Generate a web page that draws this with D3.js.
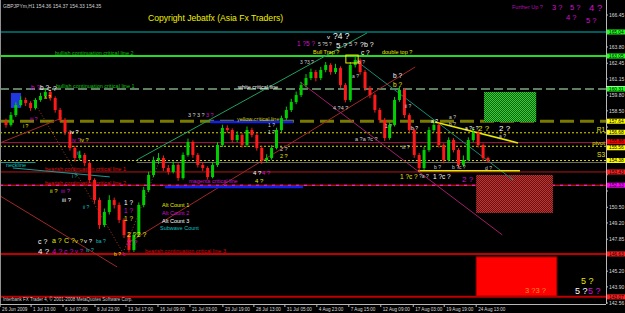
<!DOCTYPE html>
<html>
<head>
<meta charset="UTF-8">
<script src="https://d3js.org/d3.v7.min.js"></script>
<title>GBPJPY H1</title>
<style>
  body { margin: 0; background: #000; overflow: hidden; }
  svg { display: block; }
  text { font-family: 'Liberation Sans', Arial, sans-serif; }
</style>
</head>
<body>
<svg width="625" height="313"></svg>
<script>
// ---- data ----
// hourly candles, [open, high, low, close]
const candles = [
  [157.60,157.85,157.10,157.33],[157.33,158.40,157.20,158.15],[158.15,159.20,158.00,158.98],[158.98,159.70,158.85,159.40],
  [159.40,159.60,158.90,159.15],[159.15,159.30,158.50,158.73],[158.73,159.55,158.60,159.40],[159.40,160.00,159.25,159.73],
  [159.73,160.35,159.60,160.06],[160.06,160.20,159.35,159.56],[159.56,159.70,158.35,158.57],[158.57,158.75,157.55,157.74],
  [157.74,157.90,156.50,156.74],[156.74,156.90,155.20,155.42],[155.42,155.60,154.30,154.59],[154.59,155.20,154.40,154.84],
  [154.84,155.00,153.90,154.17],[154.17,154.30,152.50,152.76],[152.76,152.90,150.80,151.10],[151.10,151.30,148.70,149.03],
  [149.03,150.40,148.85,150.11],[150.11,151.50,149.90,151.10],[151.10,151.30,150.40,150.69],[150.69,150.90,149.20,149.45],
  [149.45,149.60,147.95,148.20],[148.20,148.40,146.75,146.96],[146.96,148.45,146.80,148.20],[148.20,150.90,148.05,150.69],
  [150.69,152.20,150.50,151.93],[151.93,153.45,151.75,153.18],[153.18,154.70,153.00,154.42],[154.42,155.00,154.10,154.59],
  [154.59,154.80,153.50,153.76],[153.76,154.00,153.20,153.43],[153.43,154.30,153.30,154.01],[154.01,154.15,152.70,152.93],
  [152.93,155.05,152.80,154.84],[154.84,156.20,154.70,155.92],[155.92,156.05,154.60,154.84],[154.84,155.00,153.80,154.01],
  [154.01,154.25,153.50,153.76],[153.76,153.90,152.80,153.01],[153.01,154.25,152.90,154.01],[154.01,155.90,153.85,155.67],
  [155.67,157.35,155.50,157.08],[157.08,157.30,156.70,156.91],[156.91,157.05,155.85,156.08],[156.08,156.80,155.90,156.50],
  [156.50,156.65,155.45,155.67],[155.67,157.20,155.50,156.91],[156.91,157.10,156.30,156.50],[156.50,156.65,155.20,155.42],
  [155.42,155.60,154.10,154.42],[154.42,154.90,154.20,154.59],[154.59,155.65,154.45,155.42],[155.42,157.10,155.30,156.91],
  [156.91,158.10,156.75,157.90],[157.90,158.85,157.75,158.57],[158.57,159.50,158.40,159.23],[159.23,160.10,159.05,159.81],
  [159.81,160.90,159.65,160.64],[160.64,161.55,160.45,161.22],[161.22,162.00,161.05,161.72],[161.72,161.90,160.95,161.22],
  [161.22,162.15,161.05,161.89],[161.89,162.55,161.70,162.30],[162.30,162.45,161.50,161.72],[161.72,162.40,161.55,162.05],
  [162.05,162.20,160.40,160.64],[160.64,160.80,159.20,159.40],[159.40,162.55,159.25,162.30],[162.30,163.00,162.10,162.71],
  [162.71,162.85,161.50,161.72],[161.72,161.90,160.15,160.39],[160.39,160.55,159.55,159.81],[159.81,159.95,158.35,158.57],
  [158.57,158.75,157.50,157.74],[157.74,157.90,156.00,156.25],[156.25,157.55,156.10,157.33],[157.33,159.65,157.20,159.40],
  [159.40,160.55,159.25,160.23],[160.23,160.40,157.90,158.15],[158.15,158.30,156.70,156.91],[156.91,157.05,154.60,154.84],
  [154.84,155.00,153.50,153.76],[153.76,155.50,153.60,155.25],[155.25,157.15,155.10,156.91],[156.91,157.70,156.75,157.33],
  [157.33,157.50,155.45,155.67],[155.67,155.80,154.15,154.42],[154.42,156.30,154.30,156.08],[156.08,156.25,155.05,155.25],
  [155.25,155.40,153.70,154.01],[154.01,154.80,153.85,154.42],[154.42,156.30,154.30,156.08],[156.08,157.05,155.90,156.66],
  [156.66,156.85,155.45,155.67],[155.67,155.80,154.35,154.59],[154.59,154.70,154.20,154.35]
];

const priceTicks = [166.45,165.10,163.80,162.45,161.15,159.80,158.50,157.15,155.85,154.50,
                    153.20,151.85,150.50,149.20,147.85,146.55,145.20,143.90,142.56];

const dateBars = [-1.2,5.1,11.6,18.1,24.4,30.9,37.4,44.1,50.4,56.7,63.2,69.7,76.2,82.8,89.1,95.6];
const dateLabels = ["26 Jun 2009","1 Jul 13:00","6 Jul 07:00","8 Jul 23:00","13 Jul 17:00","16 Jul 09:00",
                    "21 Jul 03:00","23 Jul 19:00","28 Jul 13:00","31 Jul 05:00","4 Aug 23:00","7 Aug 15:00",
                    "12 Aug 09:00","17 Aug 03:00","19 Aug 19:00","24 Aug 13:00"];

// horizontal levels (price), also shown as markers on the price axis
const levelPrices = [165.04,163.05,160.31,157.64,156.68,155.86,155.56,154.38,153.43,152.33,146.63,143.07];

// trend lines: [bar1, price1, bar2, price2]
const greenChannel = [26.6,154.43,73.4,164.96];
const tealFall     = [71.0,162.72,103.1,152.77];
const redRise      = [24.8,147.54,83.2,162.14];
const magentaFall  = [59.8,160.89,100.9,148.21];
const redRiseLeft  = [-1.2,155.84,11.4,157.91];
const redFallLeft  = [-1.2,151.44,22.6,145.55];
const yellowRes    = [87.2,157.58,104.1,155.84];
const yellowSup    = [83.8,153.52,104.5,153.52];
const necklineFall = [1.4,153.76,21.1,153.02];
const dotDown      = [5.5,159.40,23.8,146.72];
const dotUp        = [23.8,146.72,31.3,154.43];
const blueHigh     = [41.5,157.57,58.4,157.57];
const blueLow      = [32.3,152.19,60.4,152.19];
const neckLeft     = [-1.2,154.21,6.0,154.21];
const greyNeck     = [26.6,154.21,125,154.21];

// zones: [bar1, priceTop, bar2, priceBottom]
const greenZone = [97.2,160.07,107.8,157.58];
const brownZone = [95.6,153.18,111.2,150.03];
const redZone   = [95.6,146.38,112.0,143.14];
const topBox    = [69.1,163.13,71.6,162.47];
const blueBox   = [1.0,159.98,3.05,158.74];

// ---- chart ----
const svg = d3.select("svg");
const plotRight = 606, plotBottom = 304;
const x = d3.scaleLinear().domain([0, 98]).range([6, 488]);
const y = d3.scaleLinear().domain([142.56, 166.45]).range([303, 15]);

svg.append("rect").attr("width", 625).attr("height", 313).attr("fill", "#000");

const defs = svg.append("defs");
defs.append("clipPath").attr("id", "plot").append("rect")
  .attr("x", 0).attr("y", 0).attr("width", plotRight).attr("height", plotBottom);
function dots(id, bg, fg) {
  const p = defs.append("pattern").attr("id", id).attr("width", 2).attr("height", 2)
    .attr("patternUnits", "userSpaceOnUse");
  p.append("rect").attr("width", 2).attr("height", 2).attr("fill", bg);
  p.append("rect").attr("width", 1).attr("height", 1).attr("fill", fg);
  p.append("rect").attr("x", 1).attr("y", 1).attr("width", 1).attr("height", 1).attr("fill", fg);
}
dots("greenDots", "#0a6a0a", "#3cc83c");
dots("brownDots", "#6e0e0e", "#b83838");

const plot = svg.append("g").attr("clip-path", "url(#plot)");

// horizontal level lines
const levelStyle = [
  {c: "#007a7a", w: 1.5},
  {c: "#22dd22", w: 2},
  {c: "#5f7f62", w: 2, d: "9,4"},
  {c: "#7a7a00", w: 3, d: "14,6"},
  {c: "#d8d800", w: 1, d: "2,2"},
  {c: "#a0204a", w: 1},
  {c: "#d8d800", w: 1, d: "2,2"},
  {c: "#d8d800", w: 1, d: "2,2"},
  {c: "#b01818", w: 1},
  {c: "#ff1010", w: 1},
  {c: "#c00000", w: 2},
  {c: "#c00000", w: 2}
];
levelPrices.forEach((p, i) => {
  const s = levelStyle[i];
  plot.append("line").attr("x1", 0).attr("x2", plotRight)
    .attr("y1", y(p)).attr("y2", y(p))
    .attr("stroke", s.c).attr("stroke-width", s.w)
    .attr("stroke-dasharray", s.d || null);
});
// magenta dashes over the bearish line 2
plot.append("line").attr("x1", 0).attr("x2", plotRight)
  .attr("y1", y(levelPrices[9])).attr("y2", y(levelPrices[9]))
  .attr("stroke", "#ff30ff").attr("stroke-width", 1).attr("stroke-dasharray", "3,5");

// zones
function zone(z, fill, stroke) {
  plot.append("rect").attr("x", x(z[0])).attr("y", y(z[1]))
    .attr("width", x(z[2]) - x(z[0])).attr("height", y(z[3]) - y(z[1]))
    .attr("fill", fill).attr("stroke", stroke || "none");
}
zone(greenZone, "url(#greenDots)");
zone(brownZone, "url(#brownDots)");
zone(redZone, "#ff0000", "#a00000");
zone(blueBox, "#2038e0");

// trend lines
function seg(t, color, w, dash) {
  plot.append("line").attr("x1", x(t[0])).attr("y1", y(t[1]))
    .attr("x2", x(t[2])).attr("y2", y(t[3]))
    .attr("stroke", color).attr("stroke-width", w)
    .attr("stroke-dasharray", dash || null);
}
seg(greenChannel, "#1fa060", 1);
seg(tealFall, "#168a78", 1);
seg(redRise, "#a02828", 1);
seg(magentaFall, "#a01e6a", 1);
seg(redRiseLeft, "#a02828", 1);
seg(redFallLeft, "#a02828", 1);
seg(dotDown, "#a03c28", 1, "1,2");
seg(dotUp, "#a03c28", 1, "1,2");
seg(necklineFall, "#1a9a9a", 1);
seg(neckLeft, "#1a9a9a", 1);
seg(greyNeck, "#6a6a6a", 1);
seg(blueHigh, "#1020e8", 2.5);
seg(blueLow, "#1020e8", 2.5);
seg(yellowRes, "#e8e800", 1.5);
seg(yellowSup, "#e8e800", 1.5);

// candles
const bw = 3;
const cg = plot.append("g");
cg.selectAll("line.wick").data(candles).enter().append("line")
  .attr("x1", (d, i) => x(i)).attr("x2", (d, i) => x(i))
  .attr("y1", d => y(d[1])).attr("y2", d => y(d[2]))
  .attr("stroke", d => d[3] >= d[0] ? "#00d000" : "#ff1a1a").attr("stroke-width", 1);
cg.selectAll("rect").data(candles).enter().append("rect")
  .attr("x", (d, i) => x(i) - bw / 2)
  .attr("y", d => y(Math.max(d[0], d[3])))
  .attr("width", bw)
  .attr("height", d => Math.max(1, Math.abs(y(d[0]) - y(d[3]))))
  .attr("fill", d => d[3] >= d[0] ? "#00d000" : "#ff1a1a");

zone(topBox, "none", "#f0f000");

// text annotations
function note(px, py, t, color, size, anchor) {
  svg.append("text").attr("x", px).attr("y", py).attr("fill", color)
    .attr("font-size", size).attr("text-anchor", anchor || "start").text(t);
}
const YEL = "#e8e800", MAG = "#d010d0", WHT = "#ffffff", GRY = "#d0d0d0", CYN = "#10c0c0";

note(3, 8, "GBPJPYm,H1  154.36 154.37 154.33 154.35", GRY, 5);
note(148, 21, "Copyright Jebatfx (Asia Fx Traders)", "#f0f000", 8.6);

note(55, 55, "bullish continuation critical line 2", "#10c010", 5.5);
note(56, 88, "bullish continuation critical line 1", "#10c010", 5.5);
note(238, 89, "white critical line", WHT, 5.5);
note(237, 121, "yellow critical line", "#c8c820", 5.5);
note(6, 167, "neckline", CYN, 5.5);
note(45, 171, "bearish continuation critical line 1", "#e01010", 5.5);
note(45, 185, "bearish continuation critical line 2", "#e01010", 5.5);
note(189, 183, "magenta critical line", MAG, 5.5);
note(145, 253, "bearish continuation critical line 3", "#d01010", 5.5);
note(313, 54, "Bull Trap ?", YEL, 5.5);
note(382, 54, "double top ?", YEL, 5.5);

note(512, 9, "Further Up ?", "#b010b0", 5.5);
note(552, 10, "3 ?", MAG, 7.5);
note(570, 10, "5 ?", MAG, 7.5);
note(589, 11, "4 ?", MAG, 9.5);
note(566, 20, "4 ?", MAG, 7.5);
note(586, 23, "5 ?", MAG, 7.5);

note(162, 207, "Alt Count 1", YEL, 5.5);
note(162, 215, "Alt Count 2", MAG, 5.5);
note(162, 223, "Alt Count 3", WHT, 5.5);
note(160, 230, "Subwave Count", CYN, 5.5);

// wave counts, top
note(327, 39, "v", WHT, 6);
note(333, 39, "?4 ?", WHT, 8.5);
note(297, 46, "1 ?5 ?", MAG, 6.5);
note(318, 46, "5 ?5 ?", GRY, 5);
note(336, 47.5, "5 ?", WHT, 8);
note(349, 46, "5 ?", GRY, 6);
note(360, 47, "?b ?", WHT, 7);
note(361, 55, "c ?", WHT, 6.5);
note(300, 64, "3 ?3 ?", GRY, 5);
note(358, 64, "b ?", GRY, 5);
note(352, 78, "a ?", GRY, 5);
note(393, 78, "b ?", WHT, 6.5);
note(393, 87, "b ?", YEL, 6.5);
note(405, 108, "ii ?", GRY, 5);
note(333, 110, "4 ?4 ?", GRY, 5.5);

// wave counts, left
note(31, 90, "b ?", MAG, 6.5);
note(40, 90, "b ?", WHT, 6.5);
note(48, 91, "c ?", WHT, 6.5);
note(44, 99, "a ?", YEL, 5);
note(23, 128, "i ?", YEL, 5);
note(30, 121, "iii ?", MAG, 5);
note(70, 134, "iv ?", WHT, 5.5);
note(72, 142, "iv ?", MAG, 5.5);
note(80, 142, "iv ?", YEL, 5.5);
note(77, 155, "iii", CYN, 5);
note(72, 178, "i ?", CYN, 5);
note(50, 193, "ii ?", YEL, 6);
note(61, 193, "iii ?", MAG, 6);
note(62, 202, "iii ?", WHT, 6);
note(83, 209, "ii ?", CYN, 5);
note(38, 244, "c ?", WHT, 7);
note(52, 243, "a ?", YEL, 7);
note(64, 243, "C ?", YEL, 7);
note(75, 243, "v ?", YEL, 6);
note(84, 243, "v ?", WHT, 6);
note(38, 254, "4 ?", WHT, 8);
note(52, 254, "4 ?", MAG, 7.5);
note(64, 254, "c ?", MAG, 7);
note(75, 253, "v ?", MAG, 6);
note(86, 252, "iv ?", CYN, 5);
note(96, 243, "ba ?", CYN, 5);
note(114, 256, "b ?", YEL, 5);
note(123, 256, "c", MAG, 5);
note(124, 205, "1 ?", WHT, 6.5);
note(124, 213, "1 ?", MAG, 6.5);
note(124, 221, "1 ?", YEL, 6.5);
note(127, 237, "2 ?2 ?", YEL, 7);
note(127, 245, "2 ?", MAG, 7.5);

// wave counts, middle
note(188, 117, "3 ?", GRY, 5.5);
note(197, 117, "3 ?", GRY, 5.5);
note(206, 117, "3 ?", MAG, 5.5);
note(268, 127, "1 ?", GRY, 5);
note(268, 134, "1 ?", GRY, 5);
note(280, 151, "2 ?", GRY, 5.5);
note(280, 158, "2 ?", YEL, 5.5);
note(253, 175, "4 ?", WHT, 6);
note(262, 175, "4 ?", MAG, 6);
note(255, 183, "4 ?", YEL, 6);
note(355, 141, "a ?a ?c ?", GRY, 5.5);
note(385, 128, "1 ?", GRY, 5);
note(402, 149, "iii ?", GRY, 5);

// wave counts, right
note(400, 179, "1 ?c ?", YEL, 6.5);
note(419, 178, "?a ?", GRY, 5);
note(433, 179, "1 ?c ?", WHT, 6.5);
note(462, 182, "2 ?", MAG, 8);
note(434, 169, "b ?", GRY, 5);
note(452, 169, "b ?c ?", GRY, 5);
note(485, 170, "d ?", GRY, 5);
note(431, 123, "a ?", WHT, 5);
note(449, 119, "a ?", GRY, 5);
note(449, 126, "b ?", GRY, 5);
note(465, 130, "a ?c ?", WHT, 5);
note(478, 131, "2 ?", YEL, 8);
note(499, 131, "2 ?", WHT, 8);
note(499, 138, "a ?", GRY, 5);
note(411, 130, "b ?", WHT, 5);
note(605, 132, "R1", YEL, 6.5, "end");
note(605, 145, "pivot", YEL, 6, "end");
note(605, 157, "S3", YEL, 6.5, "end");
note(525, 293, "3 ?3 ?", "#ff9020", 7.5);
note(581, 284, "5 ?", YEL, 9);
note(575, 294, "5 ?", WHT, 9);
note(588, 294, "5 ?", MAG, 9);

// footer
note(3, 301, "Interbank FX Trader 4, \u00a9 2001-2008 MetaQuotes Software Corp.", GRY, 4.5);

// ---- axes ----
const axisColor = "#b8b8b8";
svg.append("line").attr("x1", 0.5).attr("x2", 0.5).attr("y1", 0).attr("y2", plotBottom)
  .attr("stroke", "#909090");
svg.append("line").attr("x1", plotRight + 0.5).attr("x2", plotRight + 0.5).attr("y1", 0).attr("y2", plotBottom)
  .attr("stroke", axisColor);
svg.append("line").attr("x1", 0).attr("x2", plotRight).attr("y1", plotBottom + 0.5).attr("y2", plotBottom + 0.5)
  .attr("stroke", axisColor);

// price labels that would sit under a level marker are hidden, as in the terminal
const yTicks = svg.append("g");
priceTicks.forEach(p => {
  yTicks.append("line").attr("x1", plotRight).attr("x2", plotRight + 2)
    .attr("y1", y(p)).attr("y2", y(p)).attr("stroke", axisColor);
  const covered = levelPrices.some(l => Math.abs(y(l) - y(p)) < 6);
  if (!covered) {
    yTicks.append("text").attr("x", plotRight + 3).attr("y", y(p) + 1.8)
      .attr("fill", "#d8d8d8").attr("font-size", 5).text(p.toFixed(2));
  }
});

const markerColor = ["#20ff20","#20ff20","#20ff20","#ffff00","#ffff00","#ff0000",
                     "#ffff00","#ffff00","#ff2020","#ff00ff","#ff2020","#ff2020"];
// small nudge so the stacked pivot / lower markers stay readable
const markerShift = [0,0,0,0,-0.5,-1,1.5,0,0,0,0,0];
svg.append("line").attr("x1", plotRight).attr("x2", 625).attr("y1", 86.5).attr("y2", 86.5)
  .attr("stroke", "#ffffff");
levelPrices.forEach((p, i) => {
  const cy = y(p) + markerShift[i];
  svg.append("rect").attr("x", plotRight + 1).attr("y", cy - 2.5)
    .attr("width", 625 - plotRight - 1).attr("height", 5).attr("fill", markerColor[i]);
  svg.append("text").attr("x", plotRight + 3).attr("y", cy + 1.7)
    .attr("fill", "#000").attr("font-size", 4.8).text(p.toFixed(2));
});

dateBars.forEach((b, i) => {
  svg.append("line").attr("x1", x(b)).attr("x2", x(b))
    .attr("y1", plotBottom).attr("y2", plotBottom + 3).attr("stroke", axisColor);
  svg.append("text").attr("x", x(b) + 2).attr("y", 311)
    .attr("fill", "#d8d8d8").attr("font-size", 4.6).text(dateLabels[i]);
});
</script>
</body>
</html>
